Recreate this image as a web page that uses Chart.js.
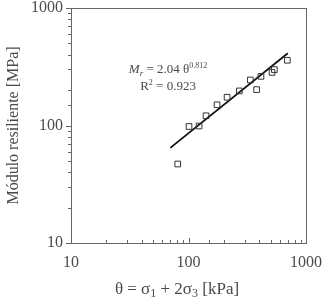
<!DOCTYPE html>
<html>
<head>
<meta charset="utf-8">
<script src="https://cdn.jsdelivr.net/npm/chart.js@4.4.1/dist/chart.umd.min.js"></script>
<style>
  html, body { margin: 0; padding: 0; background: #fff; }
  #wrap { width: 323px; height: 304px; }
</style>
</head>
<body>
<div id="wrap"><canvas id="graf" width="323" height="304"></canvas></div>
<script>
// ensayos: theta [kPa] y modulo resiliente [MPa]
const theta = [81, 101, 123, 141, 175, 213, 271, 336, 380, 414, 514, 538, 694];
const modulo = [47, 98, 99, 121, 150, 174, 197, 244, 202, 262, 283, 299, 359];
// recta de ajuste Mr = 2.04 theta^0.812
const ajusteX = [70, 700];
const ajusteY = [64.5, 412];
const tickLabels = [10, 100, 1000];
// posicion de la ecuacion (en unidades de datos)
const eqPos = [67, 305];
const r2Pos = [67, 218];

const serif = "'Liberation Serif', 'Times New Roman', serif";
const gris = "#4a4a4a";

function isMajor(v) {
  return tickLabels.includes(Math.round(v));
}

const marco = {
  id: "marco",
  afterDraw(chart) {
    const {ctx, chartArea: a, scales} = chart;
    ctx.save();
    ctx.strokeStyle = "#666";
    ctx.lineWidth = 1;
    ctx.strokeRect(Math.round(a.left) + 0.5, Math.round(a.top) + 0.5,
      Math.round(a.right - a.left), Math.round(a.bottom - a.top));
    // marcas de los ejes
    ctx.beginPath();
    scales.y.ticks.forEach(t => {
      const y = Math.round(scales.y.getPixelForValue(t.value)) + 0.5;
      const l = isMajor(t.value) ? 5 : 3;
      ctx.moveTo(a.left, y);
      ctx.lineTo(a.left - l, y);
    });
    scales.x.ticks.forEach(t => {
      const x = Math.round(scales.x.getPixelForValue(t.value)) + 0.5;
      const l = isMajor(t.value) ? 5 : 3;
      ctx.moveTo(x, a.bottom);
      ctx.lineTo(x, a.bottom - l);
    });
    ctx.stroke();

    // titulo del eje x con subindices
    ctx.fillStyle = gris;
    ctx.textBaseline = "alphabetic";
    const partes = [["θ = σ", 17, 0], ["1", 12, 3], [" + 2σ", 17, 0], ["3", 12, 3], [" [kPa]", 17, 0]];
    let ancho = 0;
    partes.forEach(p => { ctx.font = p[1] + "px " + serif; ancho += ctx.measureText(p[0]).width; });
    let x = 177 - ancho / 2;
    const base = 294;
    partes.forEach(p => {
      ctx.font = p[1] + "px " + serif;
      ctx.fillText(p[0], x, base + p[2]);
      x += ctx.measureText(p[0]).width;
    });

    // ecuacion
    const ex = scales.x.getPixelForValue(eqPos[0]);
    const ey = scales.y.getPixelForValue(eqPos[1]);
    const eq = [["M", "italic 13px", 0], ["r", "italic 9px", 3], [" = 2.04 θ", "13px", 0], ["0.812", "8px", -5]];
    ancho = 0;
    eq.forEach(p => { ctx.font = p[1] + " " + serif; ancho += ctx.measureText(p[0]).width; });
    x = ex - ancho / 2;
    eq.forEach(p => {
      ctx.font = p[1] + " " + serif;
      ctx.fillText(p[0], x, ey + 4 + p[2]);
      x += ctx.measureText(p[0]).width;
    });
    const rx = scales.x.getPixelForValue(r2Pos[0]);
    const ry = scales.y.getPixelForValue(r2Pos[1]);
    const r2 = [["R", "13px", 0], ["2", "8px", -5], [" = 0.923", "13px", 0]];
    ancho = 0;
    r2.forEach(p => { ctx.font = p[1] + " " + serif; ancho += ctx.measureText(p[0]).width; });
    x = rx - ancho / 2;
    r2.forEach(p => {
      ctx.font = p[1] + " " + serif;
      ctx.fillText(p[0], x, ry + 4 + p[2]);
      x += ctx.measureText(p[0]).width;
    });
    ctx.restore();
  }
};

const ejeLog = {
  type: "logarithmic",
  min: 10,
  max: 1000,
  grid: { drawOnChartArea: false, drawTicks: false },
  border: { display: false },
  ticks: {
    autoSkip: false,
    maxRotation: 0,
    color: gris,
    font: { family: serif, size: 16, lineHeight: 1 },
    callback: v => tickLabels.includes(Math.round(v)) ? String(Math.round(v)) : ""
  }
};

new Chart(document.getElementById("graf").getContext("2d"), {
  type: "scatter",
  data: {
    datasets: [
      {
        label: "ajuste",
        data: ajusteX.map((x, i) => ({x: x, y: ajusteY[i]})),
        showLine: true,
        borderColor: "#111",
        borderWidth: 1.8,
        pointRadius: 0,
        order: 1
      },
      {
        label: "ensayos",
        data: theta.map((x, i) => ({x: x, y: modulo[i]})),
        pointStyle: "rect",
        pointRadius: 4,
        borderColor: "#333",
        borderWidth: 1,
        backgroundColor: "rgba(255,255,255,0)",
        order: 0
      }
    ]
  },
  options: {
    responsive: false,
    animation: false,
    layout: { padding: { top: 8, right: 17, left: 0, bottom: 0 } },
    plugins: { legend: { display: false }, tooltip: { enabled: false } },
    scales: {
      x: Object.assign({}, ejeLog, {
        ticks: Object.assign({}, ejeLog.ticks, { padding: 12 }),
        afterFit: s => { s.height = 61; s.paddingLeft = 0; s.paddingRight = 0; }
      }),
      y: Object.assign({}, ejeLog, {
        ticks: Object.assign({}, ejeLog.ticks, { padding: 8 }),
        title: {
          display: true,
          text: "Módulo resiliente [MPa]",
          color: gris,
          font: { family: serif, size: 16 },
          padding: { top: 4, bottom: 4 }
        },
        afterFit: s => { s.width = 71; s.paddingTop = 0; s.paddingBottom = 0; }
      })
    }
  },
  plugins: [marco]
});
</script>
</body>
</html>
